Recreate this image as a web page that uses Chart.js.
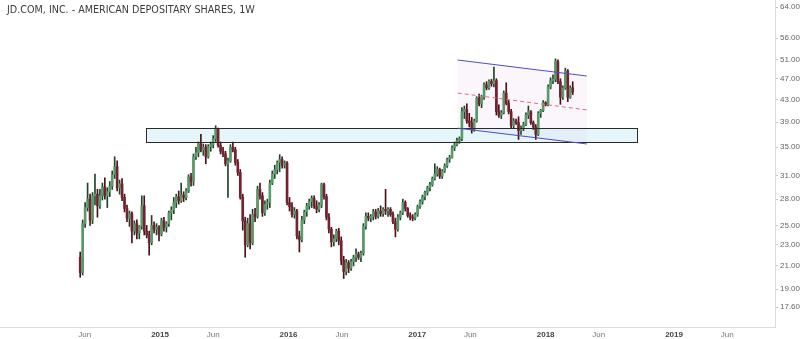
<!DOCTYPE html>
<html>
<head>
<meta charset="utf-8">
<script src="https://cdn.jsdelivr.net/npm/chart.js@4.4.0/dist/chart.umd.min.js"></script>
<style>
  body { margin: 0; background: #fff; }
  canvas { display: block; }
</style>
</head>
<body>
<canvas id="chart_JD" width="800" height="339"></canvas>
<script>
var title = "JD.COM, INC. - AMERICAN DEPOSITARY SHARES, 1W";

// weekly bars, first bar is the week of 2014-05-19
var firstWeek = "2014-05-19";
var opens = [21.8,20.4,25.2,27.0,28.0,25.6,28.4,28.6,27.2,28.4,29.5,28.4,28.9,29.6,31.1,32.2,29.4,29.9,28.2,26.9,
  25.8,26.3,24.4,25.2,24.2,24.9,27.2,24.4,24.0,23.2,25.0,24.6,24.8,24.1,25.5,24.8,25.2,26.4,26.7,27.6,
  28.3,27.8,28.5,28.2,29.0,30.8,30.2,33.6,34.2,35.5,34.6,35.0,33.6,35.1,35.4,36.3,37.8,35.3,34.4,34.0,
  32.6,33.0,35.0,34.6,32.8,31.4,28.2,25.5,23.0,25.2,23.2,26.2,26.0,29.2,28.4,26.4,27.4,27.6,30.0,31.2,
  31.8,32.8,33.2,32.4,32.7,27.6,27.1,26.2,26.6,23.9,23.5,25.6,26.5,27.2,27.7,28.1,27.2,26.8,27.3,29.8,
  28.3,25.9,24.6,23.3,23.6,24.4,23.4,21.5,20.5,21.3,20.8,21.4,21.8,22.1,21.8,22.2,24.9,26.0,25.8,26.0,
  26.5,26.0,26.6,26.3,26.8,26.6,26.8,26.2,25.4,24.6,25.9,26.4,27.6,26.9,26.1,25.9,25.8,26.2,27.1,27.7,
  28.3,28.8,29.4,29.8,30.6,31.2,31.8,30.9,31.6,32.3,33.2,33.5,34.9,35.4,36.0,36.3,40.8,41.2,39.2,38.9,
  37.8,39.2,43.2,42.2,43.4,45.8,45.2,46.5,46.0,46.6,40.8,40.2,40.6,44.2,42.3,40.8,38.4,39.2,38.9,37.6,
  38.0,38.6,40.2,40.8,38.9,38.2,37.0,40.5,41.0,42.4,42.0,45.4,46.6,46.9,50.6,46.4,43.4,45.2,48.6,43.4,
  45.2];
var highs = [22.3,25.6,27.6,30.0,28.6,28.8,31.2,29.2,29.2,30.0,30.7,29.4,30.2,31.6,33.6,33.0,30.4,30.6,28.6,27.3,
  26.6,26.5,25.5,25.6,25.0,28.4,28.4,25.0,24.4,26.1,25.4,25.2,25.0,25.8,25.9,25.4,26.6,27.1,28.2,28.6,
  29.0,30.0,28.9,29.3,31.1,31.3,34.0,35.0,35.8,37.0,35.5,35.4,35.4,35.8,36.8,38.4,38.0,35.8,35.0,34.4,
  33.4,35.4,35.8,35.0,33.2,31.8,28.6,25.9,25.8,26.2,26.8,26.9,29.6,30.0,28.8,27.8,28.0,30.4,31.6,32.4,
  33.0,33.9,33.6,33.0,32.9,28.2,27.6,27.0,26.8,24.4,26.0,26.7,27.5,28.0,28.4,28.4,27.8,27.6,30.0,30.0,
  28.6,26.3,24.8,24.0,24.6,24.7,23.8,21.9,21.6,21.5,21.6,22.0,22.6,22.3,22.4,25.2,26.4,26.4,26.2,26.8,
  26.8,26.9,27.2,27.0,29.2,27.0,27.0,26.5,25.8,26.2,26.6,28.0,27.8,27.0,26.4,26.2,26.4,27.3,27.9,28.5,
  29.0,29.6,30.1,30.8,32.6,32.2,32.0,31.8,32.6,33.4,33.8,35.2,35.8,36.4,36.6,41.5,41.8,42.2,40.5,39.8,
  39.5,43.5,44.0,43.8,46.2,46.4,46.8,46.9,49.4,47.0,42.0,41.0,44.6,46.2,42.8,41.2,39.6,39.5,39.9,38.4,
  39.0,40.6,41.8,41.0,39.2,38.6,40.8,41.2,42.8,42.6,45.8,47.2,47.8,51.2,51.0,47.0,45.6,49.2,48.9,45.6,
  46.4];
var lows = [20.0,20.2,24.8,26.6,25.0,25.2,27.3,25.9,26.9,27.9,28.0,27.0,28.3,29.2,30.6,29.0,28.6,27.8,26.5,25.4,
  24.9,23.2,24.0,23.6,23.6,24.6,24.0,23.7,22.0,23.0,24.2,24.0,23.4,23.9,24.4,24.3,24.9,25.6,26.3,27.0,
  27.4,27.6,27.7,27.9,28.8,29.6,29.7,33.2,33.6,34.3,33.8,32.6,33.4,34.4,34.9,35.9,35.0,34.0,33.6,32.3,
  28.2,32.8,34.3,32.4,31.0,28.0,24.5,21.8,22.8,22.6,23.0,25.4,25.8,28.0,26.0,26.1,26.8,27.0,29.8,30.6,
  31.2,31.5,32.0,32.0,27.3,26.6,25.9,25.8,23.6,22.3,23.3,25.2,26.0,26.8,27.0,26.9,26.4,26.5,27.0,28.0,
  25.6,24.2,22.8,22.9,23.3,23.0,21.1,19.9,20.2,20.4,20.6,21.0,21.4,21.6,21.4,22.0,24.6,25.5,25.4,25.6,
  25.7,25.8,26.0,26.0,26.2,26.0,26.0,25.2,23.8,24.4,25.6,26.2,26.6,25.9,25.6,25.5,25.6,26.0,26.9,27.4,
  27.9,28.5,29.0,29.6,30.4,30.9,30.6,30.6,31.4,32.1,32.8,33.4,34.5,35.2,35.6,36.0,39.6,38.8,38.2,37.2,
  37.5,39.0,41.8,41.5,43.0,44.8,44.9,45.5,45.4,40.2,39.8,39.6,40.4,42.0,40.4,38.0,38.0,38.6,36.2,37.0,
  37.6,38.4,39.6,38.6,37.8,36.2,36.8,39.8,40.8,41.8,41.8,45.0,46.0,46.4,46.0,42.1,43.0,44.9,42.6,43.2,
  43.9];
var closes = [20.4,25.2,27.0,28.0,25.6,28.4,28.6,27.2,28.4,29.5,28.4,28.9,29.6,31.1,32.2,29.4,29.9,28.2,26.9,25.8,
  26.3,24.4,25.2,24.2,24.9,27.2,24.4,24.0,23.2,25.0,24.6,24.8,24.1,25.5,24.8,25.2,26.4,26.7,27.6,28.3,
  27.8,28.5,28.2,29.0,30.8,30.2,33.6,34.2,35.5,34.6,35.0,33.6,35.1,35.4,36.3,37.8,35.3,34.4,34.0,32.6,
  33.0,35.0,34.6,32.8,31.4,28.2,25.5,23.0,25.2,23.2,26.2,26.0,29.2,28.4,26.4,27.4,27.6,30.0,31.2,31.8,
  32.8,33.2,32.4,32.7,27.6,27.1,26.2,26.6,23.9,23.5,25.6,26.5,27.2,27.7,28.1,27.2,26.8,27.3,29.8,28.3,
  25.9,24.6,23.3,23.6,24.4,23.4,21.5,20.5,21.3,20.8,21.4,21.8,22.1,21.8,22.2,24.9,26.0,25.8,26.0,26.5,
  26.0,26.6,26.3,26.8,26.6,26.8,26.2,25.4,24.6,25.9,26.4,27.6,26.9,26.1,25.9,25.8,26.2,27.1,27.7,28.3,
  28.8,29.4,29.8,30.6,31.2,31.8,30.9,31.6,32.3,33.2,33.5,34.9,35.4,36.0,36.3,40.8,41.2,39.2,38.9,37.8,
  39.2,43.2,42.2,43.4,45.8,45.2,46.5,46.0,46.6,40.8,40.2,40.6,44.2,42.3,40.8,38.4,39.2,38.9,37.6,38.0,
  38.6,40.2,40.8,38.9,38.2,37.0,40.5,41.0,42.4,42.0,45.4,46.6,46.9,50.6,46.4,43.4,45.2,48.6,43.4,45.2,
  44.4];

var yTicks = [17.6, 19, 21, 23, 25, 28, 31, 35, 39, 43, 47, 51, 56, 64];
var xTickDates = ["2014-06-01", "2015-01-01", "2015-06-01", "2016-01-01", "2016-06-01", "2017-01-01",
  "2017-06-01", "2018-01-01", "2018-06-01", "2019-01-01", "2019-06-01"];
var xTickLabels = ["Jun", "2015", "Jun", "2016", "Jun", "2017", "Jun", "2018", "Jun", "2019", "Jun"];

// drawings on the chart
var zoneDates = ["2014-11-21", "2018-09-17"];
var zonePrices = [35.85, 38.0];
var channelDates = ["2017-04-26", "2018-04-28"];
var channelTop = [50.95, 47.56];
var channelMid = [44.2, 41.1];
var channelBottom = [38.0, 35.5];

function weekOf(d) {
  return (Date.parse(d) - Date.parse("2014-01-01")) / (7 * 86400000);
}

var upBody = "#5a9a6a", downBody = "#74222f";
var upWick = "#1f4429", downWick = "#4a1119";

var w0 = weekOf(firstWeek);
var bodies = [], wicks = [], bodyColors = [], wickColors = [];
for (var i = 0; i < opens.length; i++) {
  var up = closes[i] >= opens[i];
  bodies.push({ x: w0 + i, y: [opens[i], closes[i]] });
  wicks.push({ x: w0 + i, y: [lows[i], highs[i]] });
  bodyColors.push(up ? upBody : downBody);
  wickColors.push(up ? upWick : downWick);
}

var drawings = {
  id: "drawings",
  beforeDatasetsDraw: function (chart) {
    var ctx = chart.ctx, xs = chart.scales.x, ys = chart.scales.y;
    ctx.save();
    // support zone
    var zx0 = Math.round(xs.getPixelForValue(weekOf(zoneDates[0])));
    var zx1 = Math.round(xs.getPixelForValue(weekOf(zoneDates[1])));
    var zy0 = Math.round(ys.getPixelForValue(zonePrices[1]));
    var zy1 = Math.round(ys.getPixelForValue(zonePrices[0]));
    ctx.fillStyle = "#e4f6f9";
    ctx.fillRect(zx0, zy0, zx1 - zx0, zy1 - zy0);
    // channel fill
    var cx0 = xs.getPixelForValue(weekOf(channelDates[0]));
    var cx1 = xs.getPixelForValue(weekOf(channelDates[1]));
    ctx.fillStyle = "rgba(215, 170, 225, 0.11)";
    ctx.beginPath();
    ctx.moveTo(cx0, ys.getPixelForValue(channelTop[0]));
    ctx.lineTo(cx1, ys.getPixelForValue(channelTop[1]));
    ctx.lineTo(cx1, ys.getPixelForValue(channelBottom[1]));
    ctx.lineTo(cx0, ys.getPixelForValue(channelBottom[0]));
    ctx.closePath();
    ctx.fill();
    ctx.restore();
  },
  afterDatasetsDraw: function (chart) {
    var ctx = chart.ctx, xs = chart.scales.x, ys = chart.scales.y;
    ctx.save();
    var zx0 = Math.round(xs.getPixelForValue(weekOf(zoneDates[0])));
    var zx1 = Math.round(xs.getPixelForValue(weekOf(zoneDates[1])));
    var zy0 = Math.round(ys.getPixelForValue(zonePrices[1]));
    var zy1 = Math.round(ys.getPixelForValue(zonePrices[0]));
    ctx.strokeStyle = "#2a2a2a";
    ctx.lineWidth = 1;
    ctx.strokeRect(zx0 + 0.5, zy0 + 0.5, zx1 - zx0, zy1 - zy0);

    var cx0 = xs.getPixelForValue(weekOf(channelDates[0]));
    var cx1 = xs.getPixelForValue(weekOf(channelDates[1]));
    function seg(vals, color, dash) {
      ctx.beginPath();
      ctx.setLineDash(dash);
      ctx.strokeStyle = color;
      ctx.moveTo(cx0, ys.getPixelForValue(vals[0]));
      ctx.lineTo(cx1, ys.getPixelForValue(vals[1]));
      ctx.stroke();
    }
    seg(channelTop, "#4b4fc2", []);
    seg(channelBottom, "#4b4fc2", []);
    seg(channelMid, "#e06a7c", [4, 3]);
    ctx.restore();
  },
  afterDraw: function (chart) {
    var ctx = chart.ctx;
    ctx.save();
    ctx.font = "9.6px 'DejaVu Sans'";
    ctx.fillStyle = "#3c3c3c";
    ctx.textBaseline = "alphabetic";
    ctx.fillText(title, 7, 13);
    ctx.restore();
  }
};

new Chart(document.getElementById("chart_JD"), {
  type: "bar",
  data: {
    datasets: [{
      label: "body",
      data: bodies,
      backgroundColor: bodyColors,
      barThickness: 2,
      minBarLength: 1,
      grouped: false,
      borderWidth: 0
    }, {
      label: "wick",
      data: wicks,
      backgroundColor: wickColors,
      barThickness: 1,
      grouped: false,
      borderWidth: 0
    }]
  },
  options: {
    responsive: false,
    animation: false,
    events: [],
    layout: { padding: 0 },
    plugins: {
      legend: { display: false },
      tooltip: { enabled: false }
    },
    scales: {
      x: {
        type: "linear",
        position: "bottom",
        bounds: "data",
        offset: false,
        min: weekOf("2013-10-03"),
        max: weekOf("2019-10-15"),
        grid: { display: true, drawOnChartArea: false, drawTicks: false, offset: false },
        border: { color: "#dcdcdc" },
        afterBuildTicks: function (scale) {
          scale.ticks = xTickDates.map(function (d) { return { value: weekOf(d) }; });
        },
        afterFit: function (scale) {
          scale.height = 12;
          scale.paddingLeft = 0;
          scale.paddingRight = 0;
        },
        ticks: {
          autoSkip: false,
          maxRotation: 0,
          padding: 3,
          font: function (c) {
            var lab = xTickLabels[c.index] || "";
            return { family: "'Liberation Sans', Arial", size: 8, weight: /^\d/.test(lab) ? "bold" : "normal" };
          },
          color: function (c) {
            var lab = xTickLabels[c.index] || "";
            return /^\d/.test(lab) ? "#444" : "#777";
          },
          callback: function (v, idx) { return xTickLabels[idx]; }
        }
      },
      y: {
        type: "logarithmic",
        position: "right",
        bounds: "data",
        min: 16.15,
        max: 65.96,
        grid: { drawOnChartArea: false, drawTicks: true, tickLength: 3, color: "#c8c8c8" },
        border: { color: "#dcdcdc" },
        afterBuildTicks: function (scale) {
          scale.ticks = yTicks.map(function (v) { return { value: v }; });
        },
        afterFit: function (scale) {
          scale.width = 25;
          scale.paddingTop = 0;
          scale.paddingBottom = 0;
        },
        ticks: {
          autoSkip: false,
          padding: 2,
          font: { family: "'Liberation Sans', Arial", size: 8 },
          color: "#666",
          callback: function (v) { return Number(v).toFixed(2); }
        }
      }
    }
  },
  plugins: [drawings]
});
</script>
</body>
</html>
